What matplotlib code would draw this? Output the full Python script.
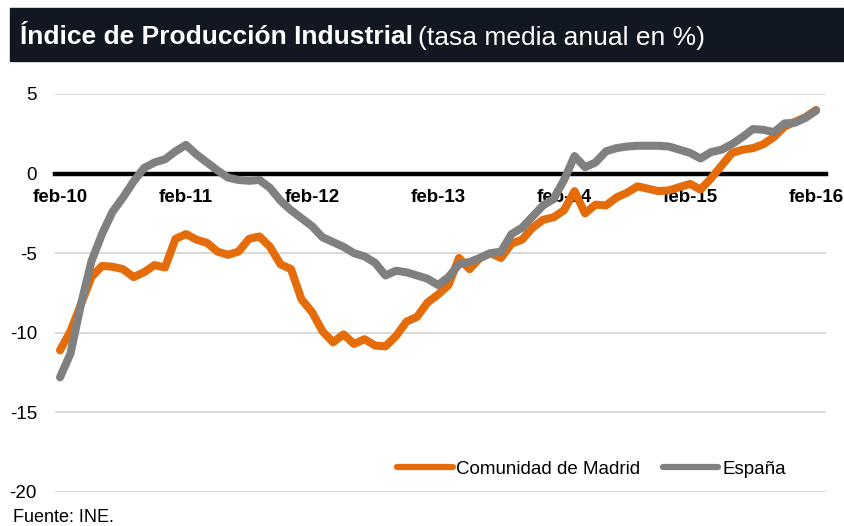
import matplotlib
matplotlib.use("Agg")
import matplotlib.pyplot as plt
from matplotlib.patches import Rectangle
from matplotlib.lines import Line2D

plt.rcParams['font.family'] = ['Liberation Sans', 'DejaVu Sans']

# monthly series, feb-10 .. feb-16
madrid = [-11.1, -9.9, -8.2, -6.5, -5.8, -5.85, -6.0, -6.5, -6.2, -5.75, -5.9, -4.1,
          -3.8, -4.15, -4.35, -4.9, -5.1, -4.9, -4.1, -3.95, -4.6, -5.7, -6.0, -7.9,
          -8.7, -9.9, -10.6, -10.1, -10.7, -10.4, -10.8, -10.85, -10.2, -9.3, -9.0, -8.1,
          -7.6, -7.0, -5.3, -6.0, -5.3, -5.0, -5.3, -4.4, -4.15, -3.4, -2.9, -2.75,
          -2.3, -1.1, -2.5, -1.95, -2.0, -1.5, -1.2, -0.8, -0.95, -1.1, -1.05, -0.85,
          -0.65, -1.0, -0.3, 0.5, 1.3, 1.5, 1.6, 1.85, 2.3, 2.95, 3.25, 3.55,
          4.0]
espana = [-12.8, -11.3, -8.2, -5.5, -3.8, -2.4, -1.5, -0.5, 0.35, 0.7, 0.9, 1.4,
          1.8, 1.2, 0.7, 0.2, -0.25, -0.4, -0.45, -0.4, -0.9, -1.7, -2.3, -2.8,
          -3.3, -4.0, -4.3, -4.6, -5.0, -5.2, -5.6, -6.4, -6.1, -6.2, -6.4, -6.6,
          -7.0, -6.5, -5.7, -5.55, -5.3, -5.0, -4.9, -3.8, -3.4, -2.7, -2.0, -1.6,
          -0.4, 1.1, 0.4, 0.7, 1.4, 1.6, 1.7, 1.75, 1.75, 1.75, 1.7, 1.5,
          1.3, 0.95, 1.35, 1.5, 1.85, 2.3, 2.8, 2.75, 2.6, 3.15, 3.2, 3.5,
          3.95]
months = list(range(len(madrid)))
xtick_pos = [0, 12, 24, 36, 48, 60, 72]
xtick_labels = ['feb-10', 'feb-11', 'feb-12', 'feb-13', 'feb-14', 'feb-15', 'feb-16']
yticks = [5, 0, -5, -10, -15, -20]

c_madrid = '#E46C0A'
c_espana = '#808080'

W, H = 845, 526
fig = plt.figure(figsize=(W / 100, H / 100), dpi=100)

# dark title band
fig.patches.append(Rectangle((10 / W, 1 - 61 / H), 1 - 10 / W, 53 / H,
                             transform=fig.transFigure, color='#111821', zorder=0))
t1 = fig.text(20 / W, 1 - 44.5 / H, 'Índice de Producción Industrial', color='white',
              fontsize=19, fontweight='bold', va='baseline', ha='left')
fig.canvas.draw()
bb = t1.get_window_extent()
fig.text((bb.x1 + 5) / W, 1 - 44.5 / H, '(tasa media anual en %)', color='white',
         fontsize=19, va='baseline', ha='left')

ax = fig.add_axes([55 / W, 34 / H, 771 / W, 398 / H])
# zero line = bottom spine (set before ticks, it resets them)
for s in ['top', 'left', 'right']:
    ax.spines[s].set_visible(False)
ax.spines['bottom'].set_position(('data', 0))
ax.spines['bottom'].set_linewidth(3.2)
ax.spines['bottom'].set_color('black')
ax.spines['bottom'].set_zorder(2)

ax.plot(months, madrid, color=c_madrid, lw=5.8, solid_capstyle='round',
        solid_joinstyle='round', zorder=3)
ax.plot(months, espana, color=c_espana, lw=5.8, solid_capstyle='round',
        solid_joinstyle='round', zorder=4)

ax.set_xlim(-0.476, 72.95)
ax.set_ylim(-20, 5)
ax.tick_params(axis='x', length=0, pad=11, labelsize=13.5, colors='black')
ax.tick_params(axis='y', length=0, pad=13, labelsize=13.5, colors='black')
ax.set_yticks(yticks)
ax.set_yticklabels([str(v) for v in yticks])
ax.set_xticks(xtick_pos)
ax.set_xticklabels(xtick_labels, fontweight='bold')

ax.yaxis.grid(True, color='#D9D9D9', lw=1.4)
ax.set_axisbelow(True)

handles = [Line2D([], [], color=c_madrid, lw=4.5, solid_capstyle='round'),
           Line2D([], [], color=c_espana, lw=4.5, solid_capstyle='round')]
fig.legend(handles, ['Comunidad de Madrid', 'España'], loc='center left',
           bbox_to_anchor=(388 / W, 1 - 469 / H), ncol=2, frameon=False,
           fontsize=13.5, borderpad=0, handlelength=2.95, handletextpad=0.2,
           columnspacing=1.2)

fig.text(13 / W, 1 - 518 / H, 'Fuente: INE.', fontsize=13, va='center', ha='left')

fig.savefig('out.png', dpi=100)
